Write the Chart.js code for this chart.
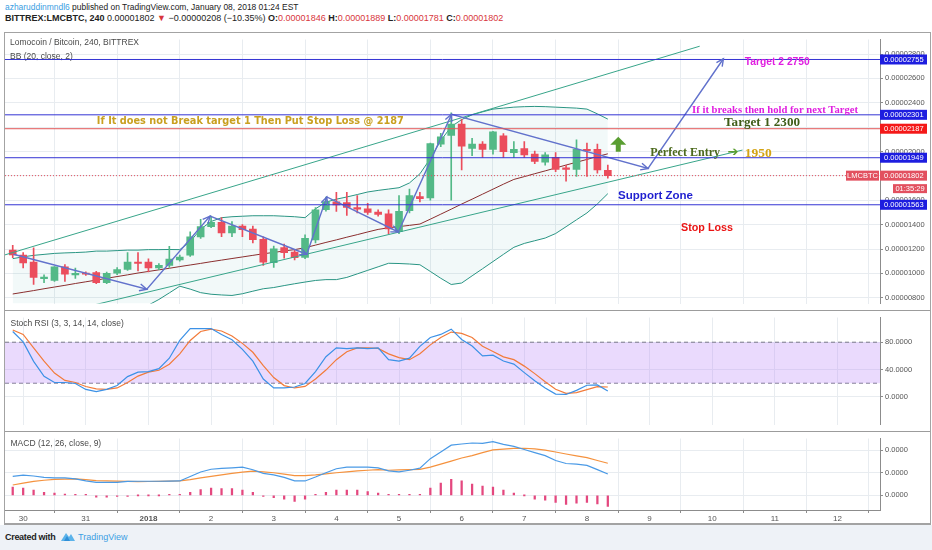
<!DOCTYPE html>
<html>
<head>
<meta charset="utf-8">
<title>LMCBTC 240</title>
<script src="https://cdn.jsdelivr.net/npm/chart.js@4.4.1/dist/chart.umd.min.js"></script>
<style>
  body { margin: 0; width: 932px; height: 550px; background: #fff; position: relative; overflow: hidden; font-family: "Liberation Sans", Arial, sans-serif; }
  .hdr { position: absolute; left: 5px; white-space: nowrap; color: #222; }
  #hdr1 { top: 2px; font-size: 8.45px; }
  #hdr2 { top: 13px; font-size: 9px; }
  .red { color: #d8363c; }
  #frame { position: absolute; left: 4px; top: 32px; width: 925px; height: 490px; border: 1px solid #a3a3a3; border-bottom: 2px solid #a3a3a3; }
  #frame canvas { position: absolute; left: 0; }
  .sep { position: absolute; left: 0; width: 925px; height: 1px; background: #9c9c9c; }
  #footer { position: absolute; left: 0; top: 525px; width: 932px; height: 25px; background: #eef2f7; font-size: 9px; }
  #cw { position: absolute; left: 5px; top: 7px; color: #222; font-weight: bold; letter-spacing: -0.3px; }
  #logo { position: absolute; left: 60px; top: 6px; }
  #tv { position: absolute; left: 78px; top: 7px; color: #3c9fe3; }
</style>
</head>
<body>
<div class="hdr" id="hdr1"><span style="color:#3b9ee2">azharuddinmndl6</span> published on TradingView.com, January 08, 2018 01:24 EST</div>
<div class="hdr" id="hdr2"><b>BITTREX:LMCBTC, 240</b> 0.00001802 <span class="red">▼</span> −0.00000208 (−10.35%) <b>O:</b><span class="red">0.00001846</span> <b>H:</b><span class="red">0.00001889</span> <b>L:</b><span class="red">0.00001781</span> <b>C:</b><span class="red">0.00001802</span></div>

<div id="frame">
  <canvas id="mainChart" width="925" height="277" style="top:0;width:925px;height:277px"></canvas>
  <div class="sep" style="top:277px"></div>
  <canvas id="stochChart" width="925" height="120" style="top:278px;width:925px;height:120px"></canvas>
  <div class="sep" style="top:398px"></div>
  <canvas id="macdChart" width="925" height="91" style="top:399px;width:925px;height:91px"></canvas>
</div>

<div id="footer">
  <span id="cw">Created with</span>
  <svg id="logo" width="16" height="11" viewBox="0 0 16 11"><path d="M1 10 L6 2 L9 6 L11 3 L15 10 Z" fill="#5bb3ea"/><path d="M4 10 L7 5 L10 10 Z" fill="#2f8fd8"/></svg>
  <span id="tv">TradingView</span>
</div>

<script>
// prices are in units of 1e-8 BTC (satoshi), 4h candles from Dec 29 20:00
const candleOpen  = [1191,1150,1092,956,943,1053,988,998,1006,923,1001,1032,1092,1092,1045,1066,1110,1150,1300,1384,
                     1418,1332,1389,1363,1279,1087,1212,1175,1131,1275,1522,1587,1582,1541,1530,1504,1488,1345,1514,1631,
                     1619,2061,2131,2226,2025,2061,2017,2129,1991,2025,1978,1913,1952,1866,1853,2017,2017,1846];
const candleHigh  = [1230,1170,1209,988,1056,1072,1043,1012,1016,1010,1048,1170,1170,1120,1080,1222,1150,1340,1444,1470,
                     1457,1426,1400,1389,1300,1225,1240,1190,1316,1540,1627,1666,1666,1639,1574,1522,1522,1639,1691,1666,
                     2069,2150,2317,2264,2109,2082,2166,2147,2082,2082,2004,1991,1991,1887,2096,2069,2061,1889];
const candleLow   = [1128,1045,909,923,935,935,958,984,915,915,990,1025,1020,1013,1030,1050,1100,1140,1287,1375,
                     1301,1301,1301,1250,1066,1050,1125,1110,1120,1250,1510,1509,1475,1496,1483,1470,1326,1326,1496,1587,
                     1600,2040,1600,1848,1965,1952,1978,1952,1952,1952,1900,1887,1835,1757,1796,1796,1822,1781];
const candleClose = [1152,1085,967,970,1053,993,1001,994,923,1001,1032,1092,1082,1045,1066,1118,1134,1300,1384,1418,
                     1332,1389,1358,1277,1092,1201,1171,1128,1287,1522,1590,1561,1541,1527,1501,1483,1365,1509,1639,1613,
                     2065,2121,2226,2043,2061,2017,2161,1999,2017,1973,1918,1973,1853,1853,2017,2007,1848,1802];

// Bollinger Bands (20, close, 2)
const bbUpper = [1121,1136,1148,1156,1164,1168,1171,1175,1183,1183,1187,1191,1191,1195,1195,1196,1195,1261,1363,1426,
                 1457,1465,1469,1473,1473,1473,1469,1465,1457,1530,1584,1609,1627,1647,1668,1681,1692,1703,1742,1817,
                 1942,2090,2204,2262,2301,2325,2348,2356,2364,2368,2370,2368,2364,2360,2356,2348,2309,2266];
const bbBasis = [831,845,859,874,888,902,917,931,945,960,974,988,1003,1016,1029,1042,1056,1069,1082,1096,
                 1109,1122,1135,1148,1161,1172,1184,1195,1211,1232,1254,1275,1297,1318,1340,1361,1374,1384,1394,1405,
                 1445,1486,1527,1569,1609,1650,1691,1732,1771,1794,1818,1841,1865,1889,1912,1935,1959,1981];
const bbLower = [560,580,600,615,630,645,660,672,684,696,708,718,728,740,786,840,895,871,842,829,
                 823,819,833,854,874,884,900,915,929,942,949,949,967,996,1025,1054,1083,1081,1077,1071,
                 1016,960,909,921,980,1038,1097,1156,1214,1246,1268,1290,1327,1383,1440,1496,1570,1654];

// Stoch RSI (3, 3, 14, 14, close)
const stochK = [95.7,80.5,52,30,21,21,19.6,10.9,7.8,10.9,16.5,29.6,36.1,37,41.3,56.6,82.7,100,100,100,
                91.4,83.5,69.6,52.2,26.1,13,13,14.4,19.6,37,58.7,71.8,70.5,71.8,70.5,71.8,54.4,52.2,56.6,74,
                87,91.4,99.2,84,74.5,60,61,52.5,48,35.5,23.5,13,4,3.5,9.5,17,17.4,8.7];
const stochD = [97.8,91.4,71.8,52.2,34.8,24,21,15.2,11.7,11,13,21,30.4,36.1,39,47.8,63,82.6,95.7,99.2,
                96.5,89.2,78.3,65.3,45.7,28.3,16.5,13,15.2,26.1,39.2,54.4,66.1,71.8,71.8,70.9,63,57.4,54.4,63,
                76.1,87,94.9,93,87,74,66.5,58.5,54.5,45,34,22,11,5.2,6.3,10.5,15,14.4];

// MACD (12, 26, close, 9), 1e-8 BTC
const macdLine = [42,45,43,40,39,38.8,36.7,32,29,28.6,28.6,31,31.3,31.3,31.3,31.5,32,42,52,58,
                  60,61.2,62.6,57,49,45.6,40,32,32,40.8,50.3,59.2,62.6,62.6,62.6,61.2,54.4,52.4,55.8,60.5,
                  81.6,96.6,111.6,114.3,116.5,115.6,119.7,113.6,108.8,102,95.2,88.4,77.6,70.8,69.4,66.7,57.1,47.6];
const macdSignal = [23,27,31,33.5,35.4,36.2,36.7,35,32.7,32,31.4,31,30.6,30.8,31,31.5,32,35,39,42,
                    45.5,49,51.5,53.7,52,50.3,47,43.8,44,45.4,47.8,50.3,52.3,54.4,55.8,57.1,55.8,56.5,57.1,57.8,
                    62.6,69.5,76.2,83,88.5,95,101,103,104.5,104.8,103.5,100.5,96.5,92,88,84,77.5,71.4];
const macdHist = [18.4,16.3,11.6,6.8,4.8,2.7,1,0.5,-4,-4,-2.7,-1,0,0,0,0.3,1,6.8,13,16.3,
                  15,15,11.6,6.8,-2.7,-5.4,-8.8,-13.6,-8.8,0.5,6.8,11.6,11.6,11.6,8.2,4.8,1,0.5,1,1.5,
                  16.3,27.2,35.4,32,25,20.4,18.4,11.6,4.8,0,-8.8,-10.9,-15.6,-20.4,-17.7,-15.6,-19,-24.5];

// axis labels
const dayLabels = ['30','31','2018','2','3','4','5','6','7','8','9','10','11','12'];
const priceTicks = [800,1000,1200,1400,1600,1800,2000,2200,2400,2600,2800];
const stochTicks = [0,40,80];
const stochBand = [20,80];
const macdTicks = [0,50,100];

// drawings (candle index, price)
const levelValues = [2755,2301,2187,1949,1563];
const lastPrice = 1802;
const arrowPathX = [0.06,12.84,18.9,28.16,30.08,36.93,42.03,60.85,68.07];
const arrowPathY = [1157,870,1470,1157,1627,1340,2305,1861,2761];
const channelUpX = [-0.74,65.8],  channelUpY = [1152,2864];
const channelLowX = [0,69.9],     channelLowY = [582,2012];
const noteText = ['If It does not Break target 1 Then Put Stop Loss @ 2187','If it breaks then hold for next Target',
                  'Target 2 2750','Target 1 2300','Perfect Entry','➔','1950','Support Zone','Stop Loss'];
const noteX = [22.76,73.02,73.23,71.77,64.4,69.0,71.4,61.57,66.5];
const noteY = [2247,2338,2729,2233,1991,1989,1987,1634,1373];
const upArrowX = 58.0, upArrowY = [1999,2122];

// ---- styles ----
const upColor = '#53b987', downColor = '#eb4d5c';
const gridColor = '#e8ecf0', axisColor = '#8c8c8c', labelColor = '#555';
const levelLineColors = ['#3434d4','#3434d4','#e25656','#3434d4','#3434d4'];
const levelBoxColors = ['#1d1ddf','#1d1ddf','#f41818','#1d1ddf','#1d1ddf'];
const noteStyle = [
  {color:'#c9a020', family:'"DejaVu Sans"', weight:'bold', width:307},
  {color:'#e01ee0', family:'"Liberation Serif"', weight:'bold', width:166},
  {color:'#e01ee0', family:'"Liberation Sans"', weight:'bold', width:65},
  {color:'#3f5d18', family:'"Liberation Serif"', weight:'bold', width:76},
  {color:'#4c6a1d', family:'"Liberation Serif"', weight:'bold', width:70},
  {color:'#5a9e32', family:'"DejaVu Sans"', weight:'bold', width:11},
  {color:'#d4a414', family:'"Liberation Serif"', weight:'bold', width:27},
  {color:'#1f1fd0', family:'"Liberation Sans"', weight:'bold', width:75},
  {color:'#ea1414', family:'"Liberation Sans"', weight:'bold', width:52},
];
const xMin = -0.74, xMax = 83.07;
const axisW = 50;

const idx = candleOpen.map((_, i) => i);
const dayTicks = dayLabels.map((_, k) => 1 + 6 * k);
const candleColors = idx.map(i => candleClose[i] >= candleOpen[i] ? upColor : downColor);
const pts = (xs, ys) => xs.map((x, i) => ({x, y: ys[i]}));
const series = arr => arr.map((v, i) => ({x: i, y: v}));
const fmt8 = v => (v / 1e8).toFixed(8);

function timeAxis(showLabels) {
  return {
    type: 'linear', min: xMin, max: xMax, offset: false,
    afterBuildTicks: s => { s.ticks = dayTicks.map(v => ({value: v})); },
    afterFit: s => { s.height = showLabels ? 13 : 0; },
    grid: { color: gridColor, drawTicks: showLabels, tickLength: 3, tickColor: axisColor },
    border: { display: showLabels, color: axisColor },
    ticks: {
      display: showLabels, autoSkip: false, maxRotation: 0, padding: 1, color: labelColor,
      font: c => ({ family: 'Liberation Sans', size: 8, weight: dayLabels[c.index] === '2018' ? 'bold' : 'normal' }),
      callback: (v, i) => dayLabels[i],
    },
  };
}

function valueAxis(min, max, tickVals, fmt) {
  return {
    position: 'right', min, max,
    afterBuildTicks: s => { s.ticks = tickVals.map(v => ({value: v})); },
    afterFit: s => { s.width = axisW; },
    grid: { color: gridColor, tickLength: 3, tickColor: axisColor },
    border: { color: axisColor },
    ticks: { color: labelColor, padding: 2, font: { family: 'Liberation Sans', size: 7.5 }, callback: fmt },
  };
}

const baseOpts = {
  responsive: false, animation: false, events: [],
  layout: { padding: 0 },
  plugins: { legend: { display: false }, tooltip: { enabled: false } },
};

function line(data, color, width, order, extra) {
  return Object.assign({ type: 'line', data, borderColor: color, borderWidth: width, pointRadius: 0, tension: 0, fill: false, order }, extra || {});
}

function legendText(ctx, text, x, y) {
  ctx.save();
  ctx.font = '8.5px "Liberation Sans"';
  ctx.fillStyle = '#4a4a4a';
  ctx.textAlign = 'left';
  ctx.textBaseline = 'middle';
  ctx.fillText(text, x, y);
  ctx.restore();
}

function fitFont(ctx, text, st) {
  ctx.font = `${st.weight} 10px ${st.family}`;
  const w = ctx.measureText(text).width;
  return `${st.weight} ${(10 * st.width / w).toFixed(2)}px ${st.family}`;
}

function priceBox(ctx, area, y, color, text) {
  ctx.fillStyle = color;
  ctx.fillRect(area.right, y - 5, 47, 10);
  ctx.fillStyle = '#fff';
  ctx.fillText(text, area.right + 4, y + 0.5);
}

// Main panel overlay: legends, arrowheads, notes, price tags
const mainOverlay = {
  id: 'mainOverlay',
  beforeDatasetsDraw(chart) {
    legendText(chart.ctx, 'Lomocoin / Bitcoin, 240, BITTREX', 5, 10);
    legendText(chart.ctx, 'BB (20, close, 2)', 5, 24);
  },
  afterDatasetsDraw(chart) {
    const {ctx, scales: {x, y}} = chart;
    ctx.save();
    // arrowheads on the hand-drawn path
    ctx.strokeStyle = '#5f6fcb';
    ctx.lineWidth = 1.4;
    for (let k = 1; k < arrowPathX.length; k++) {
      const px = x.getPixelForValue(arrowPathX[k]), py = y.getPixelForValue(arrowPathY[k]);
      const qx = x.getPixelForValue(arrowPathX[k - 1]), qy = y.getPixelForValue(arrowPathY[k - 1]);
      const a = Math.atan2(py - qy, px - qx);
      ctx.beginPath();
      ctx.moveTo(px - 8 * Math.cos(a - 0.45), py - 8 * Math.sin(a - 0.45));
      ctx.lineTo(px, py);
      ctx.lineTo(px - 8 * Math.cos(a + 0.45), py - 8 * Math.sin(a + 0.45));
      ctx.stroke();
    }
    // green up arrow
    const ax = x.getPixelForValue(upArrowX);
    const ab = y.getPixelForValue(upArrowY[0]), at = y.getPixelForValue(upArrowY[1]);
    ctx.fillStyle = '#5a9e32';
    ctx.beginPath();
    ctx.moveTo(ax, at);
    ctx.lineTo(ax + 8, at + 8);
    ctx.lineTo(ax + 2.5, at + 8);
    ctx.lineTo(ax + 2.5, ab);
    ctx.lineTo(ax - 2.5, ab);
    ctx.lineTo(ax - 2.5, at + 8);
    ctx.lineTo(ax - 8, at + 8);
    ctx.closePath();
    ctx.fill();
    // text notes
    ctx.textAlign = 'center';
    ctx.textBaseline = 'middle';
    noteText.forEach((t, k) => {
      ctx.font = fitFont(ctx, t, noteStyle[k]);
      ctx.fillStyle = noteStyle[k].color;
      ctx.fillText(t, x.getPixelForValue(noteX[k]), y.getPixelForValue(noteY[k]));
    });
    ctx.restore();
  },
  afterDraw(chart) {
    const {ctx, chartArea: area, scales: {y}} = chart;
    ctx.save();
    ctx.font = '7.5px "Liberation Sans"';
    ctx.textAlign = 'left';
    ctx.textBaseline = 'middle';
    levelValues.forEach((v, k) => priceBox(ctx, area, y.getPixelForValue(v), levelBoxColors[k], fmt8(v)));
    const ly = y.getPixelForValue(lastPrice);
    priceBox(ctx, area, ly, '#e2505f', fmt8(lastPrice));
    // symbol tag and bar countdown
    ctx.fillStyle = '#e2505f';
    ctx.fillRect(area.right - 34, ly - 5, 33, 10);
    ctx.fillRect(area.right + 13, ly + 8.5, 34, 9);
    ctx.fillStyle = '#fff';
    ctx.textAlign = 'center';
    ctx.fillText('LMCBTC', area.right - 17.5, ly + 0.5);
    ctx.fillText('01:35:29', area.right + 30, ly + 13.5);
    ctx.restore();
  },
};

const bbLineColor = '#2a9583';
const drawColor = '#6272cc';
new Chart(document.getElementById('mainChart'), {
  type: 'line',
  data: {
    datasets: [
      ...levelValues.map((v, k) => line(pts([xMin, xMax], [v, v]), levelLineColors[k], 1, 0)),
      line(pts([xMin, xMax], [lastPrice, lastPrice]), '#e2505f', 1, 0, { borderDash: [1, 2] }),
      line(pts(arrowPathX, arrowPathY), drawColor, 1.4, 0),
      line(pts(channelUpX, channelUpY), '#38a58a', 1, 1),
      line(pts(channelLowX, channelLowY), '#38a58a', 1, 1),
      { type: 'bar', data: idx.map(i => ({x: i, y: [candleLow[i], candleHigh[i]]})), backgroundColor: candleColors,
        barThickness: 1, grouped: false, borderWidth: 0, order: 5 },
      { type: 'bar', data: idx.map(i => ({x: i, y: [Math.min(candleOpen[i], candleClose[i]), Math.max(candleOpen[i], candleClose[i])]})),
        backgroundColor: candleColors, barThickness: 7, minBarLength: 1, grouped: false, borderWidth: 0, order: 4 },
      line(series(bbBasis), '#8a2e2e', 1, 7),
      line(series(bbUpper), bbLineColor, 1, 8, { fill: '+1', backgroundColor: 'rgba(40,150,150,0.06)' }),
      line(series(bbLower), bbLineColor, 1, 8),
    ],
  },
  options: Object.assign({}, baseOpts, {
    scales: { x: timeAxis(false), y: valueAxis(753, 2919, priceTicks, v => fmt8(v)) },
  }),
  plugins: [mainOverlay],
});

// Stoch RSI panel
new Chart(document.getElementById('stochChart'), {
  type: 'line',
  data: {
    datasets: [
      line(series(stochK), '#3c91e6', 1.2, 0),
      line(series(stochD), '#f27b3a', 1.2, 1),
      line(pts([xMin, xMax], [stochBand[1], stochBand[1]]), '#7a7a8a', 1, 3,
           { borderDash: [4, 3], fill: '+1', backgroundColor: 'rgba(190,140,250,0.32)' }),
      line(pts([xMin, xMax], [stochBand[0], stochBand[0]]), '#7a7a8a', 1, 3, { borderDash: [4, 3] }),
    ],
  },
  options: Object.assign({}, baseOpts, {
    scales: { x: timeAxis(false), y: valueAxis(-40.5, 116.2, stochTicks, v => v.toFixed(4)) },
  }),
  plugins: [{ id: 'stochLegend', beforeDatasetsDraw(c) { legendText(c.ctx, 'Stoch RSI (3, 3, 14, 14, close)', 5.5, 13); } }],
});

// MACD panel with the time axis
new Chart(document.getElementById('macdChart'), {
  type: 'line',
  data: {
    datasets: [
      line(series(macdLine), '#4a9ae6', 1.2, 0),
      line(series(macdSignal), '#f5923e', 1.2, 1),
      { type: 'bar', data: series(macdHist), backgroundColor: '#e4487f', barThickness: 1.6, minBarLength: 1,
        grouped: false, borderWidth: 0, order: 2 },
    ],
  },
  options: Object.assign({}, baseOpts, {
    scales: { x: timeAxis(true), y: valueAxis(-32.7, 126.5, macdTicks, v => (v / 1e8).toFixed(4)) },
  }),
  plugins: [{ id: 'macdLegend', beforeDatasetsDraw(c) { legendText(c.ctx, 'MACD (12, 26, close, 9)', 5.5, 12); } }],
});
</script>
</body>
</html>
